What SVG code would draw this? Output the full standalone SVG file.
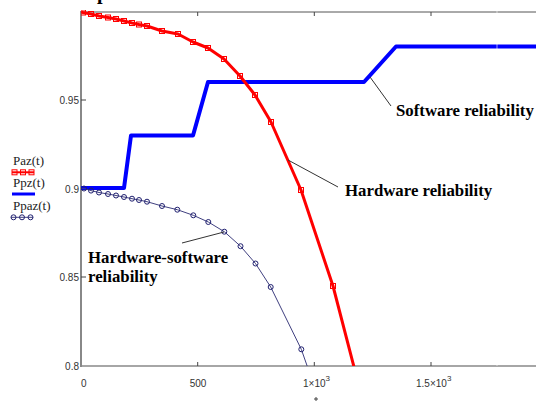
<svg xmlns="http://www.w3.org/2000/svg" width="536" height="401" viewBox="0 0 536 401">
<defs>
<style>
.tick{font-family:"Liberation Sans",Arial,sans-serif;font-size:10px;fill:#333}
.leg{font-family:"Liberation Serif","Times New Roman",serif;font-size:13px;fill:#222}
.lbl{font-family:"Liberation Serif","Times New Roman",serif;font-size:16.8px;font-weight:bold;fill:#000}
.lead{stroke:#333;stroke-width:1;fill:none}
.sq{fill:none;stroke:#ff0000;stroke-width:1}
.ci{fill:none;stroke:#202070;stroke-width:1}
</style>
<rect id="s" x="-2.5" y="-2.5" width="5" height="5" class="sq"/>
<circle id="c" r="2.5" class="ci"/>
<clipPath id="plot"><rect x="81" y="10" width="460" height="356"/></clipPath>
</defs>
<rect width="536" height="401" fill="#fff"/>
<text x="97" y="-1" style="font-family:'Liberation Serif',serif;font-size:20px;font-weight:bold">p</text>
<g id="axes">
<line x1="81" y1="12" x2="536" y2="12" stroke="#555" stroke-width="1"/>
<line x1="81" y1="11" x2="81" y2="367" stroke="#888" stroke-width="2"/>
<line x1="80" y1="366" x2="536" y2="366" stroke="#888" stroke-width="1.5"/>
<path d="M197.7 12v4M314.3 12v4M431 12v4M197.7 366v-4M314.3 366v-4M431 366v-4M81 100h5M81 189h5M81 277h5" stroke="#444" stroke-width="1"/>
<text class="tick" x="79" y="104" text-anchor="end">0.95</text>
<text class="tick" x="79" y="193" text-anchor="end">0.9</text>
<text class="tick" x="79" y="281" text-anchor="end">0.85</text>
<text class="tick" x="79" y="370" text-anchor="end">0.8</text>
<text class="tick" x="81" y="387">0</text>
<text class="tick" x="198" y="387" text-anchor="middle">500</text>
<text class="tick" x="303" y="387">1×10<tspan dy="-6" font-size="8">3</tspan></text>
<text class="tick" x="416" y="387">1.5×10<tspan dy="-6" font-size="8">3</tspan></text>
<path d="M316 397v4M314 399h4" stroke="#444" stroke-width="1"/>
</g>
<g id="curves" clip-path="url(#plot)">
<polyline id="software" fill="none" stroke="#0000ff" stroke-width="4" stroke-linejoin="round" points="81,188 124,188 131,135.5 193,135.5 208,82 364,82 396,46.5 540,46.5"/>
<polyline id="hardware" fill="none" stroke="#ff0000" stroke-width="3" stroke-linejoin="round" points="81,12 83,12.5 91,14 99,16 108,17.5 116,19 124,21 132,23 139,24.5 147,26 162,31 178,34 193,42 208,48 224,59 240,76 255,95 271,122 301,190 333,286 354,367"/>
<g id="hw-markers">
<use href="#s" x="83" y="12.5"/><use href="#s" x="91" y="14"/><use href="#s" x="99" y="16"/><use href="#s" x="108" y="17.5"/><use href="#s" x="116" y="19"/><use href="#s" x="124" y="21"/><use href="#s" x="132" y="23"/><use href="#s" x="139" y="24.5"/><use href="#s" x="147" y="26"/><use href="#s" x="162" y="31"/><use href="#s" x="178" y="34"/><use href="#s" x="193" y="42"/><use href="#s" x="208" y="48"/><use href="#s" x="224" y="59"/><use href="#s" x="240" y="76"/><use href="#s" x="255" y="95"/><use href="#s" x="271" y="122"/><use href="#s" x="301" y="190"/><use href="#s" x="333" y="286"/>
</g>
<polyline id="hwsw" fill="none" stroke="#404080" stroke-width="1" points="81,188 84,188.5 91,190.6 99,192.5 108,194 116,195.5 124,197 132,198.7 139,200 147,201.7 162,206 177.3,209.7 193.3,215.3 208.3,222 224.3,231.7 240.5,246.2 255.5,263.5 270.7,287 301.3,349.3 307.5,367"/>
<g id="hwsw-markers">
<use href="#c" x="84" y="188.5"/><use href="#c" x="91" y="190.6"/><use href="#c" x="99" y="192.5"/><use href="#c" x="108" y="194"/><use href="#c" x="116" y="195.5"/><use href="#c" x="124" y="197"/><use href="#c" x="132" y="198.7"/><use href="#c" x="139" y="200"/><use href="#c" x="147" y="201.7"/><use href="#c" x="162" y="206"/><use href="#c" x="177.3" y="209.7"/><use href="#c" x="193.3" y="215.3"/><use href="#c" x="208.3" y="222"/><use href="#c" x="224.3" y="231.7"/><use href="#c" x="240.5" y="246.2"/><use href="#c" x="255.5" y="263.5"/><use href="#c" x="270.7" y="287"/><use href="#c" x="301.3" y="349.3"/>
</g>
<line x1="497" y1="10" x2="497" y2="367" stroke="#ffffff" stroke-opacity="0.6" stroke-width="1"/>
</g>
<g id="legend">
<text class="leg" x="13" y="165">Paz(t)</text>
<line x1="12" y1="172.3" x2="34" y2="172.3" stroke="#ff0000" stroke-width="2"/>
<use href="#s" x="14.5" y="172.3"/><use href="#s" x="23" y="172.3"/><use href="#s" x="31.5" y="172.3"/>
<text class="leg" x="13" y="187">Ppz(t)</text>
<line x1="12" y1="194" x2="35" y2="194" stroke="#0000ff" stroke-width="3"/>
<text class="leg" x="13" y="210">Ppaz(t)</text>
<line x1="11" y1="217.3" x2="33" y2="217.3" stroke="#404080" stroke-width="1"/>
<use href="#c" x="13.5" y="217.3"/><use href="#c" x="22" y="217.3"/><use href="#c" x="30.5" y="217.3"/>
</g>
<g id="label-software">
<line class="lead" x1="370" y1="77" x2="391" y2="106"/>
<text class="lbl" x="396" y="116">Software reliability</text>
</g>
<g id="label-hardware">
<line class="lead" x1="288" y1="160" x2="338" y2="187"/>
<text class="lbl" x="345" y="196">Hardware reliability</text>
</g>
<g id="label-hwsw">
<line class="lead" x1="182" y1="243" x2="224" y2="232"/>
<text class="lbl" x="88" y="263">Hardware-software</text>
<text class="lbl" x="88" y="282">reliability</text>
</g>
</svg>
